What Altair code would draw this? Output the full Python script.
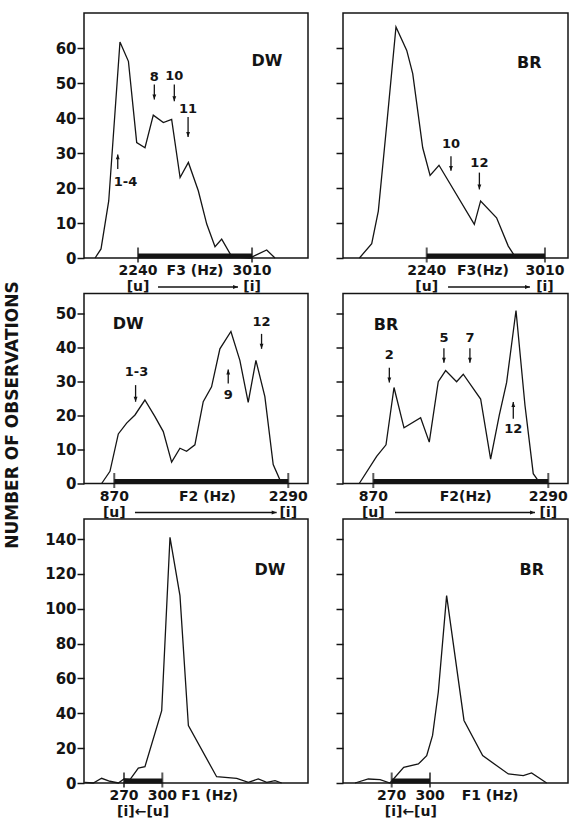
import altair as alt
import pandas as pd

FONT = "DejaVu Sans"
INK = "#141414"

# ---------------- data ----------------
# F3 histograms
DW_F3_HZ = [1950, 1990, 2042, 2118, 2175, 2231, 2287, 2343, 2411, 2467, 2524, 2580, 2647, 2704, 2760, 2805, 2873, 2996, 3109, 3165]
DW_F3_N = [0, 2.6, 16.3, 61.7, 56.2, 33, 31.5, 40.8, 38.7, 39.6, 23, 27.3, 19.2, 9.7, 3.2, 5.4, 0.4, 0, 2.3, 0]
BR_F3_HZ = [1802, 1882, 1925, 1980, 2040, 2110, 2149, 2214, 2262, 2320, 2550, 2591, 2695, 2771, 2821]
BR_F3_N = [0, 4.1, 13.4, 38.2, 66, 59.3, 52.7, 31.5, 23.6, 26.5, 9.6, 16.3, 11.5, 3.4, 0]

# F2 histograms
DW_F2_HZ = [767, 835, 903, 971, 1039, 1120, 1202, 1270, 1338, 1406, 1460, 1528, 1596, 1664, 1732, 1822, 1895, 1963, 2026, 2099, 2167, 2235]
DW_F2_N = [0, 3.6, 14.6, 17.8, 20.2, 24.6, 19.7, 15.3, 6.3, 10.4, 9.5, 11.4, 24.1, 28.5, 39.7, 44.8, 36.3, 23.9, 36.3, 25.6, 5.6, 0]
BR_F2_HZ = [756, 897, 973, 1038, 1119, 1254, 1324, 1397, 1457, 1546, 1600, 1741, 1822, 1892, 1952, 2028, 2101, 2168, 2209, 2240]
BR_F2_N = [0, 8.0, 11.4, 28.3, 16.4, 19.4, 12.2, 30, 33.3, 30, 32.2, 24.9, 7.2, 20.1, 29.8, 51, 23, 2.9, 0.8, 0]

# F1 histograms
DW_F1_HZ = [239.5, 246, 252.5, 259, 265.6, 270, 274.7, 281.2, 286.4, 299.5, 306, 313.8, 320.4, 342.5, 358.2, 367.3, 375.1, 381.7, 388.2, 393.4]
DW_F1_N = [0.4, 0, 2.7, 1.0, 0, 2.3, 2, 8.6, 9.4, 41.5, 141, 107.5, 32.9, 3.6, 2.7, 0.4, 2.3, 0.4, 1.3, 0]
BR_F1_HZ = [241.3, 251.7, 260.9, 268.7, 279.4, 290.9, 297.4, 302, 306.5, 313, 326.6, 341.2, 361.3, 373, 379.5, 391.3]
BR_F1_N = [0, 2.3, 1.9, 0, 9, 10.9, 15.7, 27.3, 52.2, 107.5, 35.9, 15.7, 5.2, 4.2, 5.8, 0]

# axis ranges and ticks
DW_F3_XDOM = [1875, 3388]
BR_F3_XDOM = [1695, 3160]
DW_F2_XDOM = [623, 2451]
BR_F2_XDOM = [624, 2450]
DW_F1_XDOM = [238.7, 414]
BR_F1_XDOM = [231.9, 408]
F3_YDOM = [0, 70]
F2_YDOM = [0, 56]
F1_YDOM = [0, 151.5]
F3_YTICKS = [0, 10, 20, 30, 40, 50, 60]
F2_YTICKS = [0, 10, 20, 30, 40, 50]
F1_YTICKS = [0, 20, 40, 60, 80, 100, 120, 140]

# [u]-[i] ranges (thick bars)
F3_RANGE = [2240, 3010]
F2_RANGE = [870, 2290]
F1_RANGE = [270, 300]

# speaker names and their positions (Hz, count)
SPEAKERS = ["DW", "BR"]
DW_F3_NAME_AT = [3111, 56.2]
BR_F3_NAME_AT = [2908, 55.8]
DW_F2_NAME_AT = [984, 47]
BR_F2_NAME_AT = [973, 46.7]
DW_F1_NAME_AT = [384.3, 122]
BR_F1_NAME_AT = [379.6, 122]

# token annotations: label, label x, label y, arrow x, arrow tail, arrow head
DW_F3_ANN_LABEL = ["8", "10", "11", "1-4"]
DW_F3_ANN_LX = [2350, 2485, 2578, 2155]
DW_F3_ANN_LY = [51.7, 52, 42.6, 21.6]
DW_F3_ANN_AX = [2350, 2485, 2578, 2103]
DW_F3_ANN_TAIL = [49.6, 49.6, 40.3, 25.4]
DW_F3_ANN_HEAD = [45.3, 44.8, 34.6, 29.6]

BR_F3_ANN_LABEL = ["10", "12"]
BR_F3_ANN_LX = [2398, 2583]
BR_F3_ANN_LY = [32.5, 27.2]
BR_F3_ANN_AX = [2398, 2583]
BR_F3_ANN_TAIL = [29.1, 24.4]
BR_F3_ANN_HEAD = [24.9, 19.6]

DW_F2_ANN_LABEL = ["1-3", "9", "12"]
DW_F2_ANN_LX = [1052, 1800, 2072]
DW_F2_ANN_LY = [32.9, 26, 47.6]
DW_F2_ANN_AX = [1044, 1800, 2072]
DW_F2_ANN_TAIL = [29, 29.5, 44.1]
DW_F2_ANN_HEAD = [24.1, 33.6, 39.7]

BR_F2_ANN_LABEL = ["2", "5", "7", "12"]
BR_F2_ANN_LX = [1000, 1443, 1654, 2006]
BR_F2_ANN_LY = [38, 42.8, 42.8, 16]
BR_F2_ANN_AX = [1000, 1443, 1654, 2006]
BR_F2_ANN_TAIL = [34.1, 39.9, 39.9, 19.1]
BR_F2_ANN_HEAD = [29.8, 35.6, 35.6, 24]

# x-axis texts
DW_F3_XL_TEXT = ["2240", "F3 (Hz)", "3010"]
DW_F3_XL_AT = [2240, 2625, 3010]
BR_F3_XL_TEXT = ["2240", "F3(Hz)", "3010"]
BR_F3_XL_AT = [2240, 2606, 3010]
DW_F2_XL_TEXT = ["870", "F2 (Hz)", "2290"]
DW_F2_XL_AT = [870, 1630, 2290]
BR_F2_XL_TEXT = ["870", "F2(Hz)", "2290"]
BR_F2_XL_AT = [870, 1620, 2290]
DW_F1_XL_TEXT = ["270", "300", "F1 (Hz)"]
DW_F1_XL_AT = [270, 300, 337]
BR_F1_XL_TEXT = ["270", "300", "F1 (Hz)"]
BR_F1_XL_AT = [270, 300, 347]

# vowel direction rows
F3_BRK_TEXT = ["[u]", "[i]"]
F2_BRK_TEXT = ["[u]", "[i]"]
F1_BRK_TEXT = ["[i]\u2190[u]"]
F1_BRK_AT = [285]
DW_F3_BRK_ARROW = [2375, 2915]
BR_F3_BRK_ARROW = [2379, 2912]
DW_F2_BRK_ARROW = [1039, 2195]
BR_F2_BRK_ARROW = [1046, 2182]

Y_TITLE = "NUMBER OF OBSERVATIONS"

# ---------------- styling ----------------
ROW_H = [245, 190, 264]
COL_W = [224, 225]
DOWN = "M-0.7,-1.8L0,0L0.7,-1.8Z"
UP = "M-0.7,1.8L0,0L0.7,1.8Z"
RIGHT = "M-1.8,-0.7L0,0L-1.8,0.7Z"


def panel(p, col, row, ytitle=False):
    H = ROW_H[row]
    W = COL_W[col]
    xs = alt.Scale(domain=p["xdom"], nice=False, zero=False)
    ys = alt.Scale(domain=p["ydom"], nice=False, zero=False)
    axis_kw = dict(values=p["yticks"], labels=(col == 0), domain=False, grid=False,
                   ticks=True, tickSize=7, tickWidth=1.5, tickColor=INK,
                   labelFont=FONT, labelFontWeight="bold", labelFontSize=15,
                   labelColor=INK, labelPadding=1, title=None)
    if ytitle:
        axis_kw.update(title=Y_TITLE, titleFont=FONT, titleFontWeight="bold",
                       titleFontSize=17, titleColor=INK, titleAngle=270,
                       titleX=-72, titleY=121, titleAlign="center",
                       titleBaseline="middle")
    yaxis = alt.Axis(**axis_kw)

    def X(f):
        return alt.X(f, scale=xs, axis=None)

    def Y(f):
        return alt.Y(f, scale=ys, axis=yaxis)

    layers = []
    line_df = pd.DataFrame({"hz": p["hz"], "n": p["n"]})
    layers.append(alt.Chart(line_df).mark_line(color=INK, strokeWidth=1.3).encode(
        x=X("hz:Q"), y=Y("n:Q")))

    bar_df = pd.DataFrame({"lo": [p["bar"][0]], "hi": [p["bar"][1]], "n": [0]})
    layers.append(alt.Chart(bar_df).mark_rule(color=INK, strokeWidth=5, yOffset=-2).encode(
        x=X("lo:Q"), x2="hi:Q", y=Y("n:Q")))
    end_df = pd.DataFrame({"v": p["bar"], "n": [0, 0]})
    layers.append(alt.Chart(end_df).mark_tick(color=INK, orient="vertical", size=15,
                                              thickness=2, yOffset=-3).encode(
        x=X("v:Q"), y=Y("n:Q")))

    if p.get("ann_label"):
        ann = pd.DataFrame({"label": p["ann_label"], "lx": p["ann_lx"], "ly": p["ann_ly"],
                            "ax": p["ann_ax"], "tail": p["ann_tail"], "head": p["ann_head"]})
        ann["dir"] = ["down" if h < t else "up" for h, t in zip(ann["head"], ann["tail"])]
        layers.append(alt.Chart(ann).mark_rule(color=INK, strokeWidth=1.3).encode(
            x=X("ax:Q"), y=Y("tail:Q"), y2="head:Q"))
        layers.append(alt.Chart(ann).mark_point(filled=True, size=30, color=INK, opacity=1).encode(
            x=X("ax:Q"), y=Y("head:Q"),
            shape=alt.Shape("dir:N", scale=alt.Scale(domain=["down", "up"], range=[DOWN, UP]),
                            legend=None)))
        layers.append(alt.Chart(ann).mark_text(font=FONT, fontWeight="bold", fontSize=13,
                                               color=INK, align="center", baseline="middle").encode(
            x=X("lx:Q"), y=Y("ly:Q"), text="label:N"))

    name_df = pd.DataFrame({"x": [p["name_at"][0]], "y": [p["name_at"][1]], "t": [p["name"]]})
    layers.append(alt.Chart(name_df).mark_text(font=FONT, fontWeight="bold", fontSize=16,
                                               color=INK, align="center", baseline="middle").encode(
        x=X("x:Q"), y=Y("y:Q"), text="t:N"))

    xl_df = pd.DataFrame({"x": p["xl_at"], "t": p["xl_text"]})
    layers.append(alt.Chart(xl_df).mark_text(font=FONT, fontWeight="bold", fontSize=14,
                                             color=INK, align="center", baseline="middle").encode(
        x=X("x:Q"), y=alt.value(H + 13), text="t:N"))

    brk_df = pd.DataFrame({"x": p["brk_at"], "t": p["brk_text"]})
    layers.append(alt.Chart(brk_df).mark_text(font=FONT, fontSize=14, fontWeight="bold",
                                              color=INK, align="center", baseline="middle").encode(
        x=X("x:Q"), y=alt.value(H + 29), text="t:N"))
    if p.get("brk_arrow"):
        arr_df = pd.DataFrame({"a": [p["brk_arrow"][0]], "b": [p["brk_arrow"][1]]})
        layers.append(alt.Chart(arr_df).mark_rule(color=INK, strokeWidth=1.3).encode(
            x=X("a:Q"), x2="b:Q", y=alt.value(H + 29)))
        layers.append(alt.Chart(arr_df).mark_point(filled=True, size=30, color=INK, opacity=1,
                                                   shape=RIGHT).encode(
            x=X("b:Q"), y=alt.value(H + 29)))

    return alt.layer(*layers).properties(width=W, height=H)


P = [
    dict(hz=DW_F3_HZ, n=DW_F3_N, xdom=DW_F3_XDOM, ydom=F3_YDOM, yticks=F3_YTICKS, bar=F3_RANGE,
         name=SPEAKERS[0], name_at=DW_F3_NAME_AT,
         ann_label=DW_F3_ANN_LABEL, ann_lx=DW_F3_ANN_LX, ann_ly=DW_F3_ANN_LY, ann_ax=DW_F3_ANN_AX,
         ann_tail=DW_F3_ANN_TAIL, ann_head=DW_F3_ANN_HEAD,
         xl_text=DW_F3_XL_TEXT, xl_at=DW_F3_XL_AT, brk_text=F3_BRK_TEXT, brk_at=F3_RANGE,
         brk_arrow=DW_F3_BRK_ARROW),
    dict(hz=BR_F3_HZ, n=BR_F3_N, xdom=BR_F3_XDOM, ydom=F3_YDOM, yticks=F3_YTICKS, bar=F3_RANGE,
         name=SPEAKERS[1], name_at=BR_F3_NAME_AT,
         ann_label=BR_F3_ANN_LABEL, ann_lx=BR_F3_ANN_LX, ann_ly=BR_F3_ANN_LY, ann_ax=BR_F3_ANN_AX,
         ann_tail=BR_F3_ANN_TAIL, ann_head=BR_F3_ANN_HEAD,
         xl_text=BR_F3_XL_TEXT, xl_at=BR_F3_XL_AT, brk_text=F3_BRK_TEXT, brk_at=F3_RANGE,
         brk_arrow=BR_F3_BRK_ARROW),
    dict(hz=DW_F2_HZ, n=DW_F2_N, xdom=DW_F2_XDOM, ydom=F2_YDOM, yticks=F2_YTICKS, bar=F2_RANGE,
         name=SPEAKERS[0], name_at=DW_F2_NAME_AT,
         ann_label=DW_F2_ANN_LABEL, ann_lx=DW_F2_ANN_LX, ann_ly=DW_F2_ANN_LY, ann_ax=DW_F2_ANN_AX,
         ann_tail=DW_F2_ANN_TAIL, ann_head=DW_F2_ANN_HEAD,
         xl_text=DW_F2_XL_TEXT, xl_at=DW_F2_XL_AT, brk_text=F2_BRK_TEXT, brk_at=F2_RANGE,
         brk_arrow=DW_F2_BRK_ARROW),
    dict(hz=BR_F2_HZ, n=BR_F2_N, xdom=BR_F2_XDOM, ydom=F2_YDOM, yticks=F2_YTICKS, bar=F2_RANGE,
         name=SPEAKERS[1], name_at=BR_F2_NAME_AT,
         ann_label=BR_F2_ANN_LABEL, ann_lx=BR_F2_ANN_LX, ann_ly=BR_F2_ANN_LY, ann_ax=BR_F2_ANN_AX,
         ann_tail=BR_F2_ANN_TAIL, ann_head=BR_F2_ANN_HEAD,
         xl_text=BR_F2_XL_TEXT, xl_at=BR_F2_XL_AT, brk_text=F2_BRK_TEXT, brk_at=F2_RANGE,
         brk_arrow=BR_F2_BRK_ARROW),
    dict(hz=DW_F1_HZ, n=DW_F1_N, xdom=DW_F1_XDOM, ydom=F1_YDOM, yticks=F1_YTICKS, bar=F1_RANGE,
         name=SPEAKERS[0], name_at=DW_F1_NAME_AT,
         xl_text=DW_F1_XL_TEXT, xl_at=DW_F1_XL_AT, brk_text=F1_BRK_TEXT, brk_at=F1_BRK_AT),
    dict(hz=BR_F1_HZ, n=BR_F1_N, xdom=BR_F1_XDOM, ydom=F1_YDOM, yticks=F1_YTICKS, bar=F1_RANGE,
         name=SPEAKERS[1], name_at=BR_F1_NAME_AT,
         xl_text=BR_F1_XL_TEXT, xl_at=BR_F1_XL_AT, brk_text=F1_BRK_TEXT, brk_at=F1_BRK_AT),
]

charts = []
for i, p in enumerate(P):
    row, col = divmod(i, 2)
    charts.append(panel(p, col, row, ytitle=(row == 1 and col == 0)))

chart = alt.concat(
    *charts, columns=2, spacing={"row": 35.5, "column": 35}, bounds="flush", align="each"
).properties(
    padding={"left": 2, "top": 12, "right": 0, "bottom": 0}
).configure(
    font=FONT, background="white"
).configure_view(
    stroke=INK, strokeWidth=1.5
)

chart.save("out.html", embed_options={"renderer": "svg", "actions": False})
